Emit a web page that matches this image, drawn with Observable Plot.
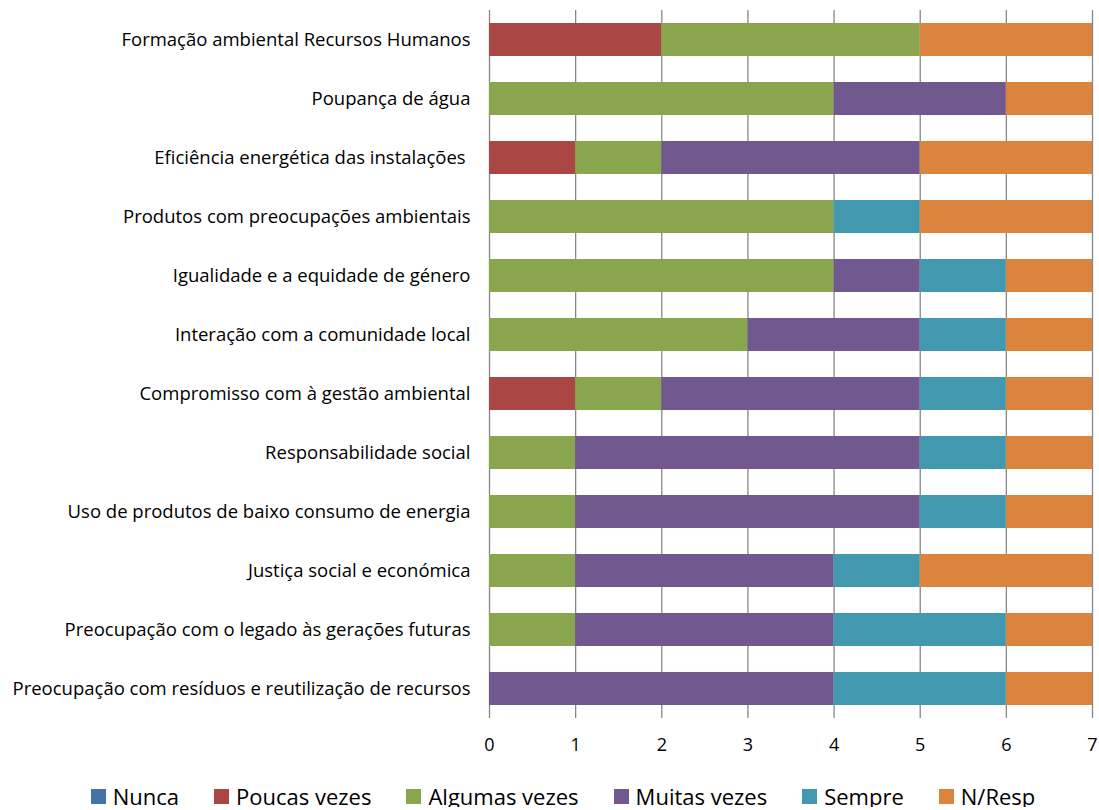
<!DOCTYPE html>
<html>
<head>
<meta charset="utf-8">
<script src="https://cdn.jsdelivr.net/npm/d3@7"></script>
<script src="https://cdn.jsdelivr.net/npm/@observablehq/plot@0.6"></script>
<style>
  body { margin: 0; background: #fff; font-family: "Open Sans", sans-serif; }
  #chart svg { display: block; }
  #legend {
    display: flex; justify-content: center; align-items: center;
    margin-top: 20px; height: 22px; line-height: 22px; padding-left: 27px;
    font-size: 22px; color: #000; gap: 35px;
  }
  #legend .item { display: flex; align-items: center; gap: 7px; white-space: nowrap; }
  #legend .sw { width: 15px; height: 15px; display: inline-block; }
</style>
</head>
<body>
<div id="chart"></div>
<div id="legend"></div>
<script>
// Survey items, top to bottom
const categories = [
  "Formação ambiental Recursos Humanos",
  "Poupança de água",
  "Eficiência energética das instalações\u00a0",
  "Produtos com preocupações ambientais",
  "Igualidade e a equidade de género",
  "Interação com a comunidade local",
  "Compromisso com à gestão ambiental",
  "Responsabilidade social",
  "Uso de produtos de baixo consumo de energia",
  "Justiça social e económica",
  "Preocupação com o legado às gerações futuras",
  "Preocupação com resíduos e reutilização de recursos"
];

// Answer frequencies, one array per answer, in category order
const series = ["Nunca", "Poucas vezes", "Algumas vezes", "Muitas vezes", "Sempre", "N/Resp"];
const nunca   = [0, 0, 0, 0, 0, 0, 0, 0, 0, 0, 0, 0];
const poucas  = [2, 0, 1, 0, 0, 0, 1, 0, 0, 0, 0, 0];
const algumas = [3, 4, 1, 4, 4, 3, 1, 1, 1, 1, 1, 0];
const muitas  = [0, 2, 3, 0, 1, 2, 3, 4, 4, 3, 3, 4];
const sempre  = [0, 0, 0, 1, 1, 1, 1, 1, 1, 1, 2, 2];
const nresp   = [2, 1, 2, 2, 1, 1, 1, 1, 1, 2, 1, 1];
const colors  = ["#4572A7", "#AA4643", "#89A54E", "#71588F", "#4198AF", "#DB843D"];
const xTicks  = [0, 1, 2, 3, 4, 5, 6, 7];

const valuesBySeries = [nunca, poucas, algumas, muitas, sempre, nresp];
const rows = [];
categories.forEach((c, i) => {
  series.forEach((s, j) => rows.push({category: c, answer: s, value: valuesBySeries[j][i]}));
});

const chart = Plot.plot({
  width: 1099,
  height: 765,
  marginLeft: 489,
  marginRight: 7,
  marginTop: 10,
  marginBottom: 47,
  style: {fontFamily: "'Open Sans', sans-serif", color: "#000", background: "#fff", overflow: "visible"},
  x: {domain: [0, 7], ticks: xTicks},
  y: {domain: categories, paddingInner: 0.44, paddingOuter: 0.22},
  color: {domain: series, range: colors},
  marks: [
    Plot.ruleX(xTicks, {stroke: "#878787", strokeWidth: 1.3}),
    Plot.barX(rows, {y: "category", x: "value", fill: "answer"}),
    Plot.axisX({ticks: xTicks, tickFormat: d3.format("d"), tickSize: 0, tickPadding: 20, fontSize: 18, label: null}),
    Plot.axisY({tickSize: 0, tickPadding: 19, fontSize: 18.5, label: null})
  ]
});
document.getElementById("chart").appendChild(chart);

// Legend row beneath the chart
const legend = document.getElementById("legend");
series.forEach((s, j) => {
  const item = document.createElement("span");
  item.className = "item";
  const sw = document.createElement("span");
  sw.className = "sw";
  sw.style.background = colors[j];
  const t = document.createElement("span");
  t.textContent = s;
  item.append(sw, t);
  legend.append(item);
});
</script>
</body>
</html>
